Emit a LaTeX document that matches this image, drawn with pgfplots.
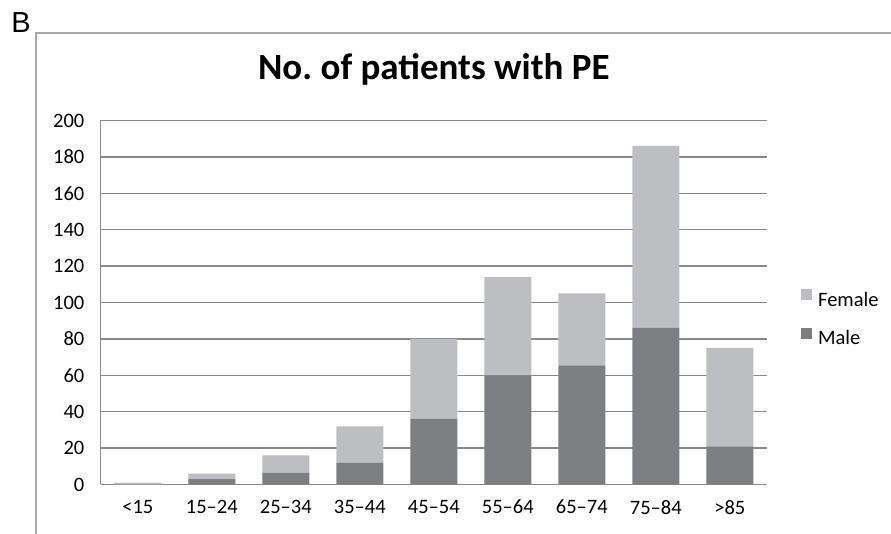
\documentclass[border=0pt]{standalone}
\usepackage{pgfplots}
\pgfplotsset{compat=1.18}
\usepackage{fontspec}
\setmainfont{Carlito}
\newfontfamily\arialfont{Liberation Sans}
\frenchspacing
\definecolor{female}{HTML}{BDBEC2}
\definecolor{male}{HTML}{7D7E82}
\definecolor{gridc}{HTML}{8A8A8A}
\definecolor{framec}{HTML}{A8A8A8}
\begin{document}
\begin{tikzpicture}[x=1bp,y=1bp]
\path[use as bounding box] (0,0) rectangle (891,534);
\draw[framec, line width=1.1bp] (36,0) -- (36,501) -- (891,501);
\node[font=\arialfont\fontsize{29bp}{32bp}\selectfont, anchor=center, inner sep=0pt] at (21,511.5) {B};
\begin{axis}[
  at={(100.8bp,49.5bp)}, anchor=south west,
  scale only axis, width=666bp, height=364bp,
  ybar stacked, bar width=47bp,
  xmin=-0.5, xmax=8.5, ymin=0, ymax=200,
  xtick={0,...,8},
  xticklabels={<15,15--24,25--34,35--44,45--54,55--64,65--74,75--84,>85},
  ytick={0,20,...,200},
  extra x ticks={-0.5}, extra x tick labels={},
  extra x tick style={grid=major, major grid style={gridc, line width=1.3bp}},
  major tick length=0pt,
  ymajorgrids, grid style={gridc, line width=1.3bp},
  axis line style={draw=none},
  tick label style={font=\fontsize{20.5bp}{24bp}\selectfont, color=black},
  /pgf/number format/assume math mode=true,
  xticklabel style={yshift=-12bp},
  yticklabel style={xshift=-13bp},
  title={No.\ of patients with PE},
  title style={font=\bfseries\fontsize{37bp}{42bp}\selectfont, at={(0.5,1)}, anchor=base, yshift=35.5bp, inner sep=0pt},
  legend style={draw=none, fill=none, at={(1.052,0.536)}, anchor=north west,
    font=\fontsize{20.5bp}{24bp}\selectfont, row sep=17.5bp, inner sep=0pt, outer sep=0pt,
    nodes={inner sep=0pt, text height=14bp, text depth=4bp},
    /tikz/every odd column/.style={column sep=5.7bp}},
  legend cell align=left,
  reverse legend,
  legend image code/.code={\fill[#1, draw=none] (0bp,1bp) rectangle (11bp,12bp);},
]
\addplot[fill=male, draw=none] coordinates {(0,0) (1,3) (2,6.5) (3,12) (4,36) (5,60) (6,65.5) (7,86) (8,21)};
\addlegendentry{Male}
\addplot[fill=female, draw=none] coordinates {(0,1) (1,3) (2,9.5) (3,20) (4,44) (5,54) (6,39.5) (7,100) (8,54)};
\addlegendentry{Female}
\end{axis}
\end{tikzpicture}
\end{document}
